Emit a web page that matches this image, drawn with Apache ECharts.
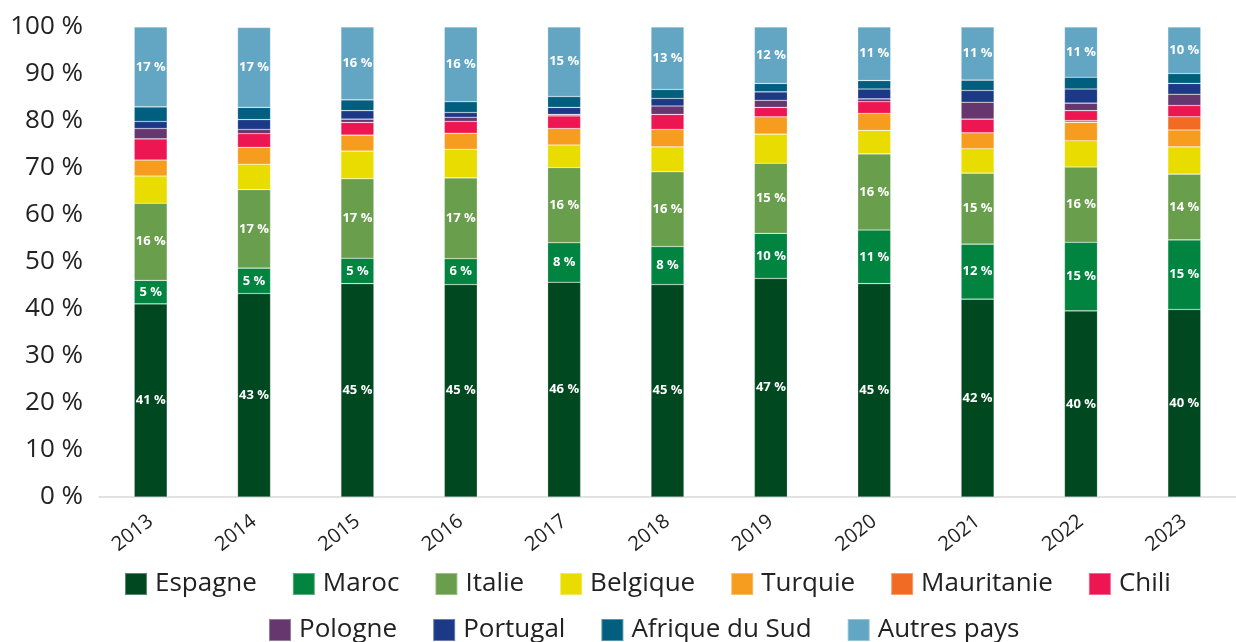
<!DOCTYPE html>
<html>
<head>
<meta charset="utf-8">
<script src="https://cdn.jsdelivr.net/npm/echarts@6/dist/echarts.min.js"></script>
<style>
  html, body { margin: 0; padding: 0; background: #fff; }
  #chart { width: 1236px; height: 642px; }
</style>
</head>
<body>
<div id="chart"></div>
<script>
// années
const years = ['2013', '2014', '2015', '2016', '2017', '2018', '2019', '2020', '2021', '2022', '2023'];

// parts en %
const espagne    = [41.1, 43.3, 45.4, 45.2, 45.7, 45.2, 46.5, 45.4, 42.1, 39.6, 39.9];
const maroc      = [5.0, 5.4, 5.4, 5.5, 8.4, 8.1, 9.6, 11.4, 11.7, 14.6, 14.8];
const italie     = [16.4, 16.7, 16.9, 17.2, 16.0, 15.9, 14.9, 16.2, 15.1, 16.0, 14.0];
const belgique   = [5.8, 5.4, 5.9, 6.1, 4.8, 5.3, 6.2, 5.0, 5.2, 5.6, 5.8];
const turquie    = [3.4, 3.6, 3.4, 3.4, 3.5, 3.7, 3.7, 3.6, 3.4, 3.9, 3.6];
const mauritanie = [0, 0, 0, 0, 0, 0, 0, 0, 0, 0.4, 2.8];
const chili      = [4.5, 2.9, 2.7, 2.5, 2.7, 3.2, 2.0, 2.5, 2.9, 2.1, 2.4];
const pologne    = [2.2, 0.9, 0.7, 0.9, 0.3, 1.8, 1.5, 0.6, 3.6, 1.6, 2.4];
const portugal   = [1.5, 2.1, 1.8, 1.0, 1.5, 1.6, 1.8, 2.1, 2.5, 3.0, 2.3];
const afriqueSud = [3.1, 2.6, 2.3, 2.3, 2.3, 1.9, 1.8, 1.8, 2.2, 2.5, 2.1];
const autres     = [17.0, 17.0, 15.5, 15.9, 14.8, 13.3, 12.0, 11.4, 11.3, 10.7, 9.9];

const yTicks = [0, 10, 20, 30, 40, 50, 60, 70, 80, 90, 100];

const seriesDefs = [
  { name: 'Espagne', data: espagne, color: '#00481f', label: true },
  { name: 'Maroc', data: maroc, color: '#00843f', label: true },
  { name: 'Italie', data: italie, color: '#699e4d', label: true },
  { name: 'Belgique', data: belgique, color: '#e9dc00', label: false },
  { name: 'Turquie', data: turquie, color: '#f69c1f', label: false },
  { name: 'Mauritanie', data: mauritanie, color: '#f26b24', label: false },
  { name: 'Chili', data: chili, color: '#ee1652', label: false },
  { name: 'Pologne', data: pologne, color: '#66376f', label: false },
  { name: 'Portugal', data: portugal, color: '#1b3987', label: false },
  { name: 'Afrique du Sud', data: afriqueSud, color: '#005e7e', label: false },
  { name: 'Autres pays', data: autres, color: '#62a6c4', label: true }
];

const FONT = 'Open Sans';
const chart = echarts.init(document.getElementById('chart'), null, { renderer: 'canvas' });

const legendCommon = {
  icon: 'rect',
  itemWidth: 22,
  itemHeight: 22,
  itemGap: 35,
  padding: 0,
  textStyle: { fontFamily: FONT, fontSize: 26, color: '#222', padding: [0, 0, 0, 3] }
};

const option = {
  animation: false,
  backgroundColor: '#fff',
  textStyle: { fontFamily: FONT },
  grid: { left: 99, width: 1148, top: 27, bottom: 145 },
  legend: [
    Object.assign({ left: 124, top: 571, data: seriesDefs.slice(0, 7).map(s => s.name) }, legendCommon),
    Object.assign({ left: 268, top: 617, data: seriesDefs.slice(7).map(s => s.name) }, legendCommon)
  ],
  xAxis: {
    type: 'category',
    data: years,
    axisLine: { lineStyle: { color: '#d9d9d9', width: 1.5 } },
    axisTick: { show: false },
    axisLabel: { rotate: 38, fontSize: 20, color: '#222', margin: 22, fontFamily: FONT }
  },
  yAxis: {
    type: 'value',
    min: 0,
    max: 100,
    interval: 10,
    splitLine: { show: false },
    axisLine: { show: false },
    axisTick: { show: false },
    axisLabel: {
      fontSize: 26,
      color: '#222',
      margin: 16,
      fontFamily: FONT,
      formatter: v => (yTicks.includes(v) ? v + ' %' : '')
    }
  },
  series: seriesDefs.map(s => ({
    name: s.name,
    type: 'bar',
    stack: 'total',
    barWidth: 33,
    data: s.data,
    itemStyle: { color: s.color, borderColor: 'rgba(255,255,255,0.35)', borderWidth: 0.6 },
    label: {
      show: s.label,
      position: 'inside',
      color: '#fff',
      fontWeight: 'bold',
      fontSize: 13,
      fontFamily: FONT,
      formatter: p => Math.round(p.value) + ' %'
    }
  }))
};

chart.setOption(option);
</script>
</body>
</html>
